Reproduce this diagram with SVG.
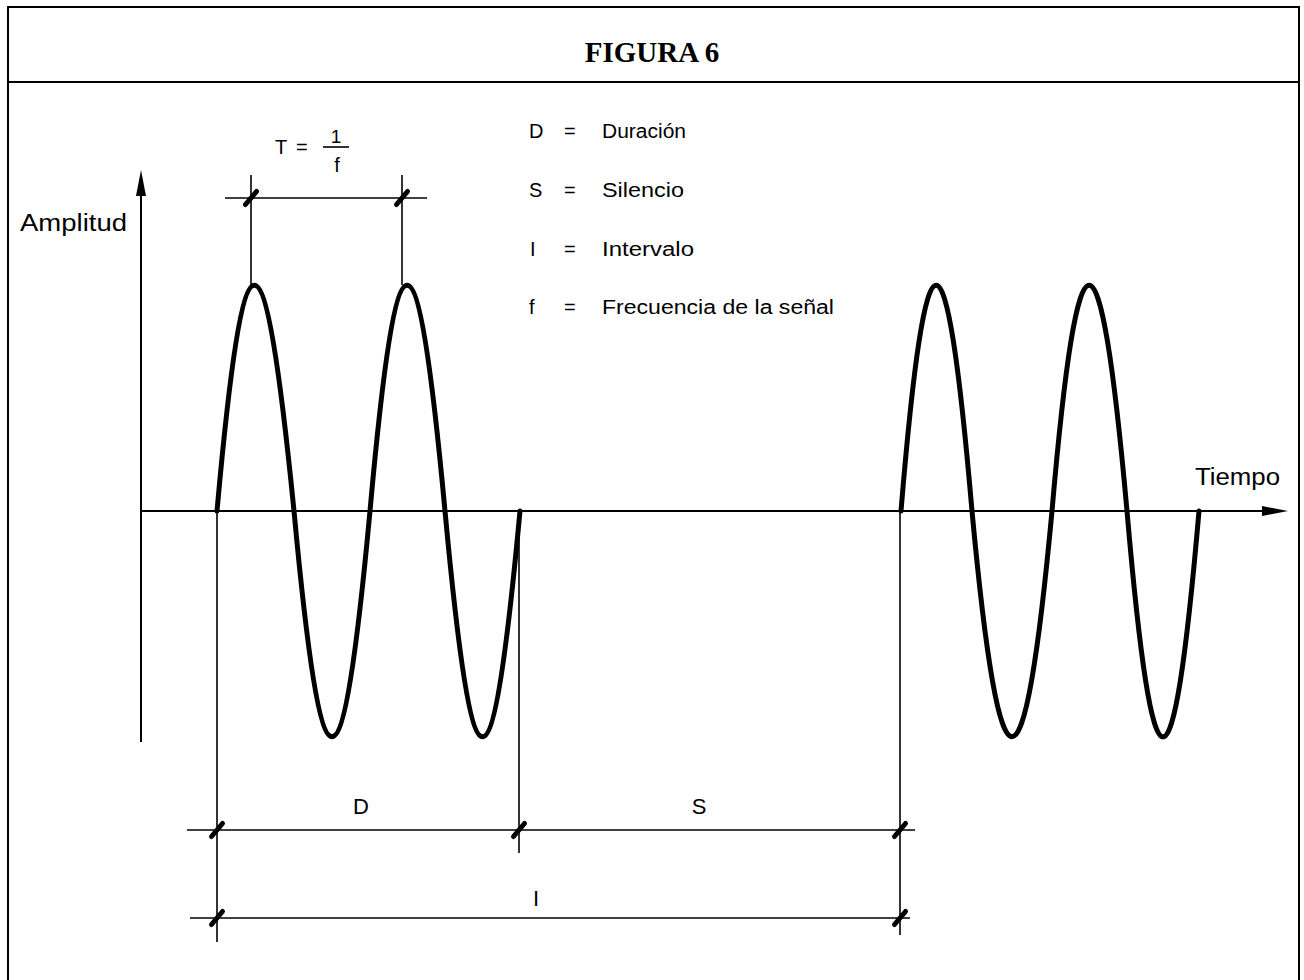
<svg xmlns="http://www.w3.org/2000/svg" xmlns:xlink="http://www.w3.org/1999/xlink" width="1304" height="980" viewBox="0 0 1304 980">
  <style>
    .frame { fill: none; stroke: #000; stroke-width: 2; }
    .axis { fill: none; stroke: #000; stroke-width: 2; }
    .wave { fill: none; stroke: #000; stroke-width: 5; stroke-linejoin: round; stroke-linecap: round; }
    .dim { fill: none; stroke: #000; stroke-width: 1.6; }
    .tick { fill: none; stroke: #000; stroke-width: 5; stroke-linecap: round; }
    .t { font-family: "Liberation Sans", Arial, Helvetica, sans-serif; fill: #000; }
    .title { font-family: "Liberation Serif", "Times New Roman", serif; font-weight: bold; font-size: 29px; fill: #000; }
  </style>
  <defs>
    <path id="tick" class="tick" d="M-5.5,6.5 L5.5,-6.5"/>
  </defs>
  <rect width="1304" height="980" fill="#fff"/>

  <g id="frame">
    <path class="frame" d="M8,984 L8,7 L1299,7 L1299,984"/>
    <line class="frame" x1="8" y1="82" x2="1299" y2="82"/>
  </g>

  <g id="title">
    <text class="title" x="652" y="62" text-anchor="middle">FIGURA 6</text>
  </g>

  <g id="axes">
    <line class="axis" x1="141" y1="190" x2="141" y2="742"/>
    <path d="M141,170 L146,196 L136,196 Z" fill="#000"/>
    <line class="axis" x1="141" y1="511" x2="1266" y2="511"/>
    <path d="M1288,511 L1262,506 L1262,516 Z" fill="#000"/>
    <text class="t" x="20" y="231" font-size="23" textLength="107" lengthAdjust="spacingAndGlyphs">Amplitud</text>
    <text class="t" x="1195" y="485" font-size="23" textLength="85" lengthAdjust="spacingAndGlyphs">Tiempo</text>
  </g>

  <g id="waves">
    <path class="wave" d="M217,511 C244,210 264,210 294,511 C322,812 342,812 370,511 C397,210 417,210 445,511 C473,812 492,812 520,511"/>
    <path class="wave" d="M901,511 C926,210 946,210 972,511 C1000,812 1024,812 1052,511 C1078,210 1100,210 1127,511 C1153,812 1173,812 1199,511"/>
  </g>

  <g id="connectors">
    <line class="dim" x1="251" y1="175" x2="251" y2="285"/>
    <line class="dim" x1="402" y1="175" x2="402" y2="285"/>
    <line class="dim" x1="225" y1="198" x2="427" y2="198"/>
    <use xlink:href="#tick" href="#tick" x="251" y="198"/>
    <use xlink:href="#tick" href="#tick" x="402" y="198"/>
    <line class="dim" x1="217" y1="511" x2="217" y2="942"/>
    <line class="dim" x1="519" y1="511" x2="519" y2="853"/>
    <line class="dim" x1="900" y1="511" x2="900" y2="935"/>
    <line class="dim" x1="187" y1="830" x2="915" y2="830"/>
    <use xlink:href="#tick" href="#tick" x="217" y="830"/>
    <use xlink:href="#tick" href="#tick" x="519" y="830"/>
    <use xlink:href="#tick" href="#tick" x="900" y="830"/>
    <line class="dim" x1="190" y1="918" x2="910" y2="918"/>
    <use xlink:href="#tick" href="#tick" x="217" y="918"/>
    <use xlink:href="#tick" href="#tick" x="900" y="918"/>
  </g>

  <g id="labels">
    <text class="t" x="275" y="154" font-size="20">T</text>
    <text class="t" x="296" y="154" font-size="20">=</text>
    <text class="t" x="336" y="143" font-size="19" text-anchor="middle">1</text>
    <line class="dim" x1="323" y1="147" x2="349" y2="147"/>
    <text class="t" x="337" y="172" font-size="20" text-anchor="middle">f</text>
    <text class="t" x="361" y="814" font-size="22" text-anchor="middle">D</text>
    <text class="t" x="699" y="814" font-size="22" text-anchor="middle">S</text>
    <text class="t" x="536" y="906" font-size="22" text-anchor="middle">I</text>
  </g>

  <g id="legend">
    <text class="t" x="529" y="138" font-size="20">D</text>
    <text class="t" x="564" y="138" font-size="20">=</text>
    <text class="t" x="602" y="138" font-size="20" textLength="84" lengthAdjust="spacingAndGlyphs">Duración</text>
    <text class="t" x="529" y="197" font-size="20">S</text>
    <text class="t" x="564" y="197" font-size="20">=</text>
    <text class="t" x="602" y="197" font-size="20" textLength="82" lengthAdjust="spacingAndGlyphs">Silencio</text>
    <text class="t" x="530" y="256" font-size="20">I</text>
    <text class="t" x="564" y="256" font-size="20">=</text>
    <text class="t" x="602" y="256" font-size="20" textLength="92" lengthAdjust="spacingAndGlyphs">Intervalo</text>
    <text class="t" x="529" y="314" font-size="20">f</text>
    <text class="t" x="564" y="314" font-size="20">=</text>
    <text class="t" x="602" y="314" font-size="20" textLength="232" lengthAdjust="spacingAndGlyphs">Frecuencia de la señal</text>
  </g>
</svg>
